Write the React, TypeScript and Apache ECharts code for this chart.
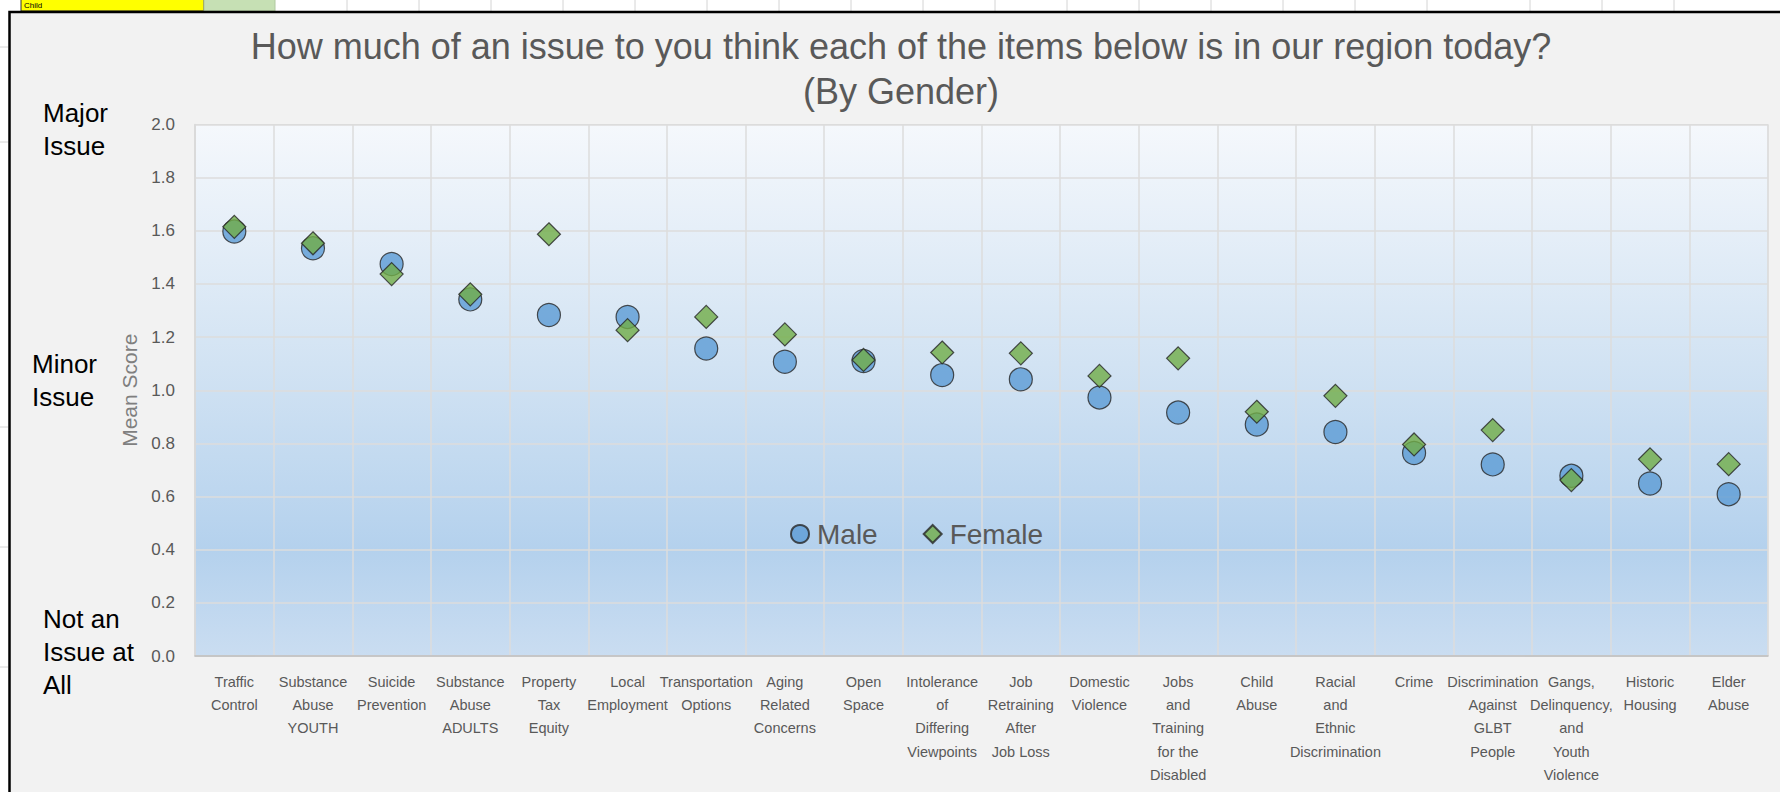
import React, { useEffect, useRef } from "react";
import * as echarts from "echarts";

const categories: string[] = [
  "Traffic\nControl",
  "Substance\nAbuse\nYOUTH",
  "Suicide\nPrevention",
  "Substance\nAbuse\nADULTS",
  "Property\nTax\nEquity",
  "Local\nEmployment",
  "Transportation\nOptions",
  "Aging\nRelated\nConcerns",
  "Open\nSpace",
  "Intolerance\nof\nDiffering\nViewpoints",
  "Job\nRetraining\nAfter\nJob Loss",
  "Domestic\nViolence",
  "Jobs\nand\nTraining\nfor the\nDisabled",
  "Child\nAbuse",
  "Racial\nand\nEthnic\nDiscrimination",
  "Crime",
  "Discrimination\nAgainst\nGLBT\nPeople",
  "Gangs,\nDelinquency,\nand\nYouth\nViolence",
  "Historic\nHousing",
  "Elder\nAbuse",
];

const maleScores: number[] = [
  1.597, 1.534, 1.475, 1.342, 1.283, 1.276, 1.157, 1.107, 1.11, 1.057, 1.041, 0.973, 0.916,
  0.871, 0.843, 0.764, 0.721, 0.678, 0.649, 0.609,
];

const femaleScores: number[] = [
  1.615, 1.553, 1.437, 1.361, 1.587, 1.226, 1.276, 1.21, 1.114, 1.142, 1.139, 1.054, 1.12,
  0.919, 0.979, 0.796, 0.85, 0.662, 0.74, 0.722,
];

const seriesNames: string[] = ["Male", "Female"];

const titleLines: string[] = [
  "How much of an issue to you think each of the items below is in our region today?",
  "(By Gender)",
];

const scaleLabels: string[] = ["Major\nIssue", "Minor\nIssue", "Not an\nIssue at\nAll"];

const Y_MIN = 0;
const Y_MAX = 2;
const Y_INTERVAL = 0.2;

export default function App() {
  const ref = useRef<HTMLDivElement>(null);

  useEffect(() => {
    if (!ref.current) return;
    const chart = echarts.init(ref.current, undefined, { renderer: "svg" });

    const sheetLines = [347, 419, 491, 563, 635, 707, 779, 851, 923, 995, 1067, 1139, 1211, 1283, 1355, 1427, 1530, 1602, 1674];

    const option: any = {
      animation: false,
      backgroundColor: "#FFFFFF",
      graphic: [
        {
          type: "rect",
          z: -20,
          shape: { x: 21, y: -2, width: 183, height: 13 },
          style: { fill: "#FFFF00", stroke: "#333333", lineWidth: 1 },
          silent: true,
        },
        {
          type: "text",
          z: -19,
          style: { x: 24, y: 1, text: "Child", font: "8px 'Liberation Sans'", fill: "#000", verticalAlign: "top" },
          silent: true,
        },
        {
          type: "rect",
          z: -20,
          shape: { x: 204, y: -2, width: 71, height: 13 },
          style: { fill: "#C6E0B4", stroke: "#B0C8A0", lineWidth: 1 },
          silent: true,
        },
        ...sheetLines.map((x) => ({
          type: "line",
          z: -20,
          shape: { x1: x, y1: 0, x2: x, y2: 11 },
          style: { stroke: "#D4D4D4", lineWidth: 1 },
          silent: true,
        })),
        ...[47, 142, 427, 547, 667].map((y) => ({
          type: "line",
          z: -20,
          shape: { x1: 0, y1: y, x2: 8, y2: y },
          style: { stroke: "#D4D4D4", lineWidth: 1 },
          silent: true,
        })),
        {
          type: "rect",
          z: -10,
          shape: { x: 9.5, y: 12, width: 1800, height: 800 },
          style: { fill: "#F2F2F2", stroke: "#000000", lineWidth: 2.5 },
          silent: true,
        },
        {
          type: "text",
          z: 10,
          style: {
            x: 901,
            y: 24,
            text: titleLines.join("\n"),
            font: "36px 'Liberation Sans'",
            lineHeight: 45,
            fill: "#595959",
            align: "center",
            verticalAlign: "top",
          },
          silent: true,
        },
        {
          type: "text",
          z: 10,
          style: {
            x: 43,
            y: 96,
            text: scaleLabels[0],
            font: "26px 'Liberation Sans'",
            lineHeight: 33,
            fill: "#000000",
            verticalAlign: "top",
          },
          silent: true,
        },
        {
          type: "text",
          z: 10,
          style: {
            x: 32,
            y: 347,
            text: scaleLabels[1],
            font: "26px 'Liberation Sans'",
            lineHeight: 33,
            fill: "#000000",
            verticalAlign: "top",
          },
          silent: true,
        },
        {
          type: "text",
          z: 10,
          style: {
            x: 43,
            y: 602,
            text: scaleLabels[2],
            font: "26px 'Liberation Sans'",
            lineHeight: 33,
            fill: "#000000",
            verticalAlign: "top",
          },
          silent: true,
        },
      ],
      legend: {
        show: true,
        left: 785,
        top: 514,
        orient: "horizontal",
        itemWidth: 18,
        itemHeight: 18,
        itemGap: 45,
        data: [
          { name: seriesNames[0], icon: "circle" },
          { name: seriesNames[1], icon: "diamond" },
        ],
        textStyle: {
          fontFamily: "'Liberation Sans'",
          fontSize: 28,
          color: "#595959",
          lineHeight: 30,
          padding: [0, 0, 0, 3],
        },
      },
      grid: {
        left: 195,
        top: 124.5,
        right: 12,
        bottom: 136,
        show: true,
        borderWidth: 1,
        borderColor: "#D9D9D9",
        backgroundColor: new echarts.graphic.LinearGradient(0, 0, 0, 1, [
          { offset: 0, color: "#F5F8FC" },
          { offset: 0.45, color: "#D2E3F3" },
          { offset: 0.8, color: "#B4D1ED" },
          { offset: 1, color: "#CADDF1" },
        ]),
      },
      xAxis: {
        type: "category",
        data: categories,
        boundaryGap: true,
        axisLine: { show: true, lineStyle: { color: "#BFBFBF", width: 1.5 } },
        axisTick: { show: false },
        splitLine: { show: true, lineStyle: { color: "#DCDCDC", width: 1.5 } },
        axisLabel: {
          interval: 0,
          hideOverlap: false,
          margin: 14,
          fontFamily: "'Liberation Sans Narrow', 'Liberation Sans'",
          fontSize: 14.5,
          lineHeight: 23.3,
          color: "#595959",
          align: "center",
        },
      },
      yAxis: {
        type: "value",
        min: Y_MIN,
        max: Y_MAX,
        interval: Y_INTERVAL,
        name: "Mean Score",
        nameLocation: "middle",
        nameGap: 42,
        nameTextStyle: {
          fontFamily: "'Liberation Sans'",
          fontSize: 21,
          color: "#7F7F7F",
        },
        axisLine: { show: true, lineStyle: { color: "#D9D9D9", width: 1.5 } },
        axisTick: { show: false },
        splitLine: { show: true, lineStyle: { color: "#DCDCDC", width: 1.5 } },
        axisLabel: {
          margin: 20,
          fontFamily: "'Liberation Sans'",
          fontSize: 17,
          color: "#595959",
          formatter: (v: number) => v.toFixed(1),
        },
      },
      series: [
        {
          name: seriesNames[0],
          type: "scatter",
          data: maleScores,
          symbol: "circle",
          symbolSize: 23,
          itemStyle: { color: "#5B9BD5", borderColor: "#262626", borderWidth: 1.2 },
          z: 2,
        },
        {
          name: seriesNames[1],
          type: "scatter",
          data: femaleScores,
          symbol: "diamond",
          symbolSize: 23,
          itemStyle: { color: "#70AD47", borderColor: "#262626", borderWidth: 1.2 },
          z: 3,
        },
      ],
    };

    chart.setOption(option);
    return () => chart.dispose();
  }, []);

  return (
    <div
      ref={ref}
      style={{ position: "absolute", left: 0, top: 0, width: 1780, height: 792 }}
    />
  );
}
